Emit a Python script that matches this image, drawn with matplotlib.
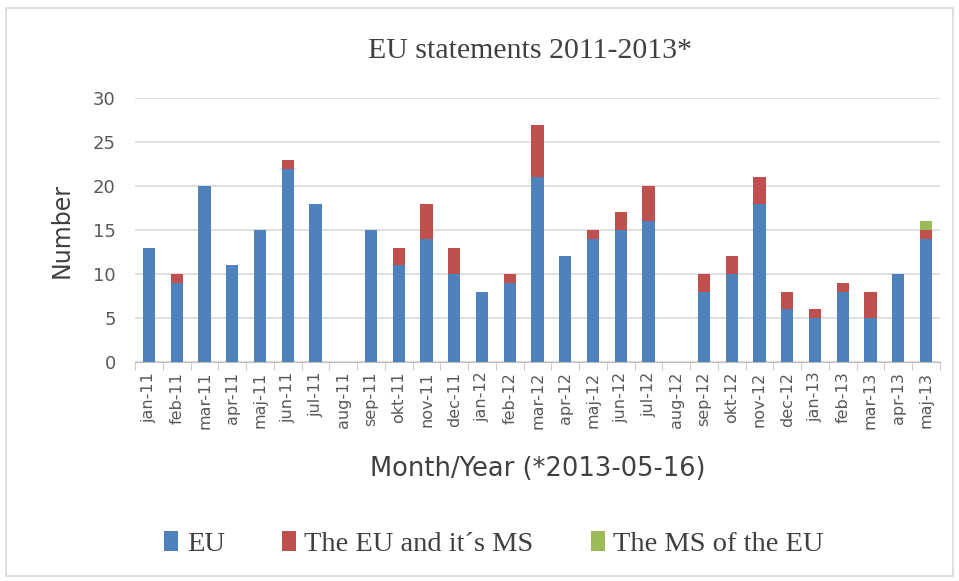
import numpy as np
import matplotlib
matplotlib.use("Agg")
import matplotlib.pyplot as plt
import matplotlib.patches as mpatches

# data
months = ["jan-11", "feb-11", "mar-11", "apr-11", "maj-11", "jun-11", "jul-11", "aug-11",
          "sep-11", "okt-11", "nov-11", "dec-11", "jan-12", "feb-12", "mar-12", "apr-12",
          "maj-12", "jun-12", "jul-12", "aug-12", "sep-12", "okt-12", "nov-12", "dec-12",
          "jan-13", "feb-13", "mar-13", "apr-13", "maj-13"]
eu = [13, 9, 20, 11, 15, 22, 18, 0, 15, 11, 14, 10, 8, 9, 21, 12,
      14, 15, 16, 0, 8, 10, 18, 6, 5, 8, 5, 10, 14]
eu_ms = [0, 1, 0, 0, 0, 1, 0, 0, 0, 2, 4, 3, 0, 1, 6, 0,
         1, 2, 4, 0, 2, 2, 3, 2, 1, 1, 3, 0, 1]
ms_only = [0] * 28 + [1]

series_names = ["EU", "The EU and it\u00b4s MS", "The MS of the EU"]
colors = ["#4F81BD", "#C0504D", "#9BBB59"]

fig = plt.figure(figsize=(9.59, 5.81), dpi=100)
fig.patch.set_facecolor("white")
fig.patches.append(mpatches.Rectangle((0.006, 0.008), 0.988, 0.978, transform=fig.transFigure,
                                      fill=False, edgecolor="#d9d9d9", lw=1.2))

ax = fig.add_axes([0.141, 0.377, 0.839, 0.454])
x = np.arange(len(months))
w = 0.44
eu_a, eums_a, ms_a = np.array(eu), np.array(eu_ms), np.array(ms_only)
ax.bar(x, eu_a, w, color=colors[0], label=series_names[0], zorder=3)
ax.bar(x, eums_a, w, bottom=eu_a, color=colors[1], label=series_names[1], zorder=3)
ax.bar(x, ms_a, w, bottom=eu_a + eums_a, color=colors[2], label=series_names[2], zorder=3)

ax.set_xlim(-0.5, len(months) - 0.5)
ax.set_ylim(0, 30)
ax.set_yticks(range(0, 31, 5))
ax.yaxis.grid(True, color="#d9d9d9", lw=1.2, zorder=0)
for s in ["top", "right", "left"]:
    ax.spines[s].set_visible(False)
ax.spines["bottom"].set_color("#bfbfbf")
ax.tick_params(axis="y", length=0, labelsize=13, labelcolor="#595959", pad=14)
ax.set_xticks(x)
ax.set_xticklabels(months, rotation=90, fontsize=11.5, color="#595959")
ax.tick_params(axis="x", which="major", length=0, pad=7)
ax.set_xticks(np.arange(-0.5, len(months), 1), minor=True)
ax.tick_params(axis="x", which="minor", length=6, color="#bfbfbf")

ax.set_ylabel("Number", fontsize=17, color="#404040", labelpad=14)
ax.set_xlabel("Month/Year (*2013-05-16)", fontsize=18.5, color="#404040", labelpad=19)

fig.text(0.553, 0.913, "EU statements 2011-2013*", fontsize=21.5, family="Liberation Serif",
         color="#404040", ha="center", va="center")

handles, labels = ax.get_legend_handles_labels()
fig.legend(handles, labels, loc="center", bbox_to_anchor=(0.515, 0.064), ncol=3, frameon=False,
           prop={"family": "Liberation Serif", "size": 20.5}, labelcolor="#404040",
           handlelength=0.5, handleheight=0.75, handletextpad=0.3, columnspacing=2.0)

fig.savefig("out.png", dpi=100)
